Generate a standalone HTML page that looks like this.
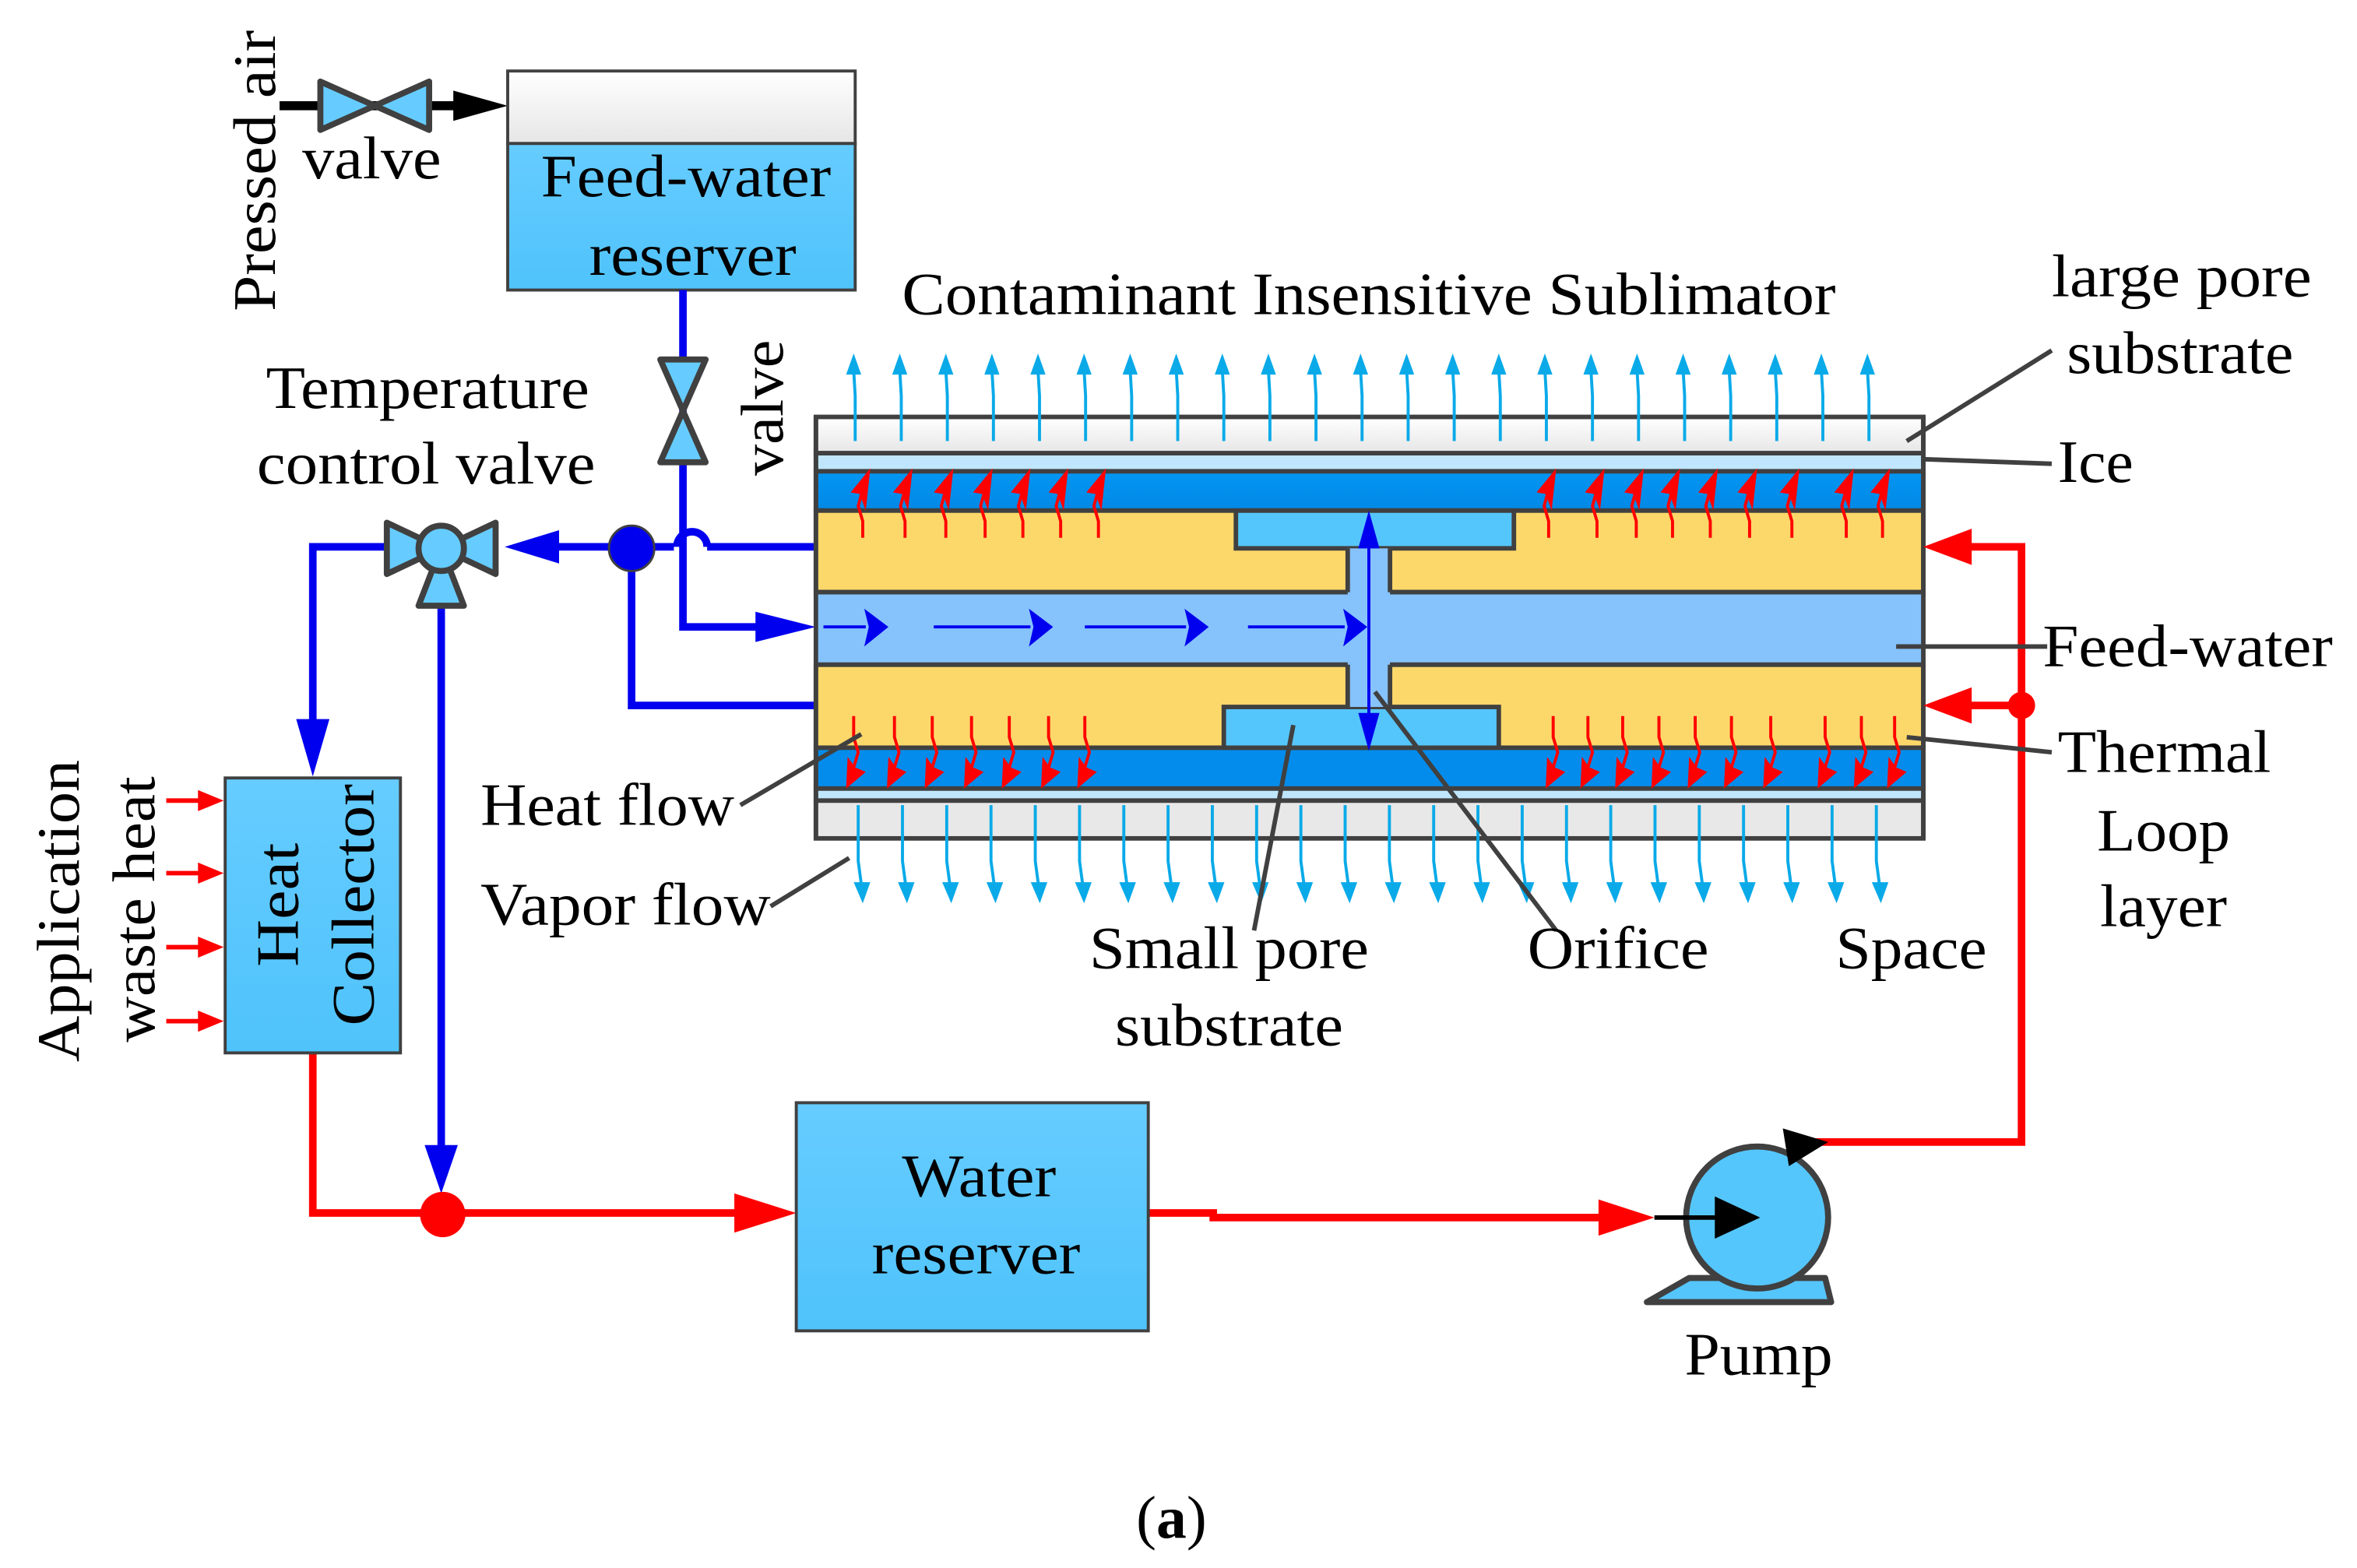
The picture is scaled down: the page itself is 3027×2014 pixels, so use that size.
<!DOCTYPE html>
<html><head><meta charset="utf-8"><style>html,body{margin:0;padding:0;background:#fff}svg{display:block}text{font-family:"Liberation Serif",serif;fill:#000}</style></head>
<body>
<svg id="s" width="3027" height="2014" viewBox="0 0 1560 1038" xmlns="http://www.w3.org/2000/svg">
<defs>
<linearGradient id="gr" x1="0" y1="0" x2="0" y2="1"><stop offset="0" stop-color="#fff"/><stop offset="1" stop-color="#e6e6e6"/></linearGradient>
<linearGradient id="bl" x1="0" y1="0" x2="0" y2="1"><stop offset="0" stop-color="#66ccff"/><stop offset="1" stop-color="#4fc3fb"/></linearGradient>
<linearGradient id="db" x1="0" y1="0" x2="0" y2="1"><stop offset="0" stop-color="#0396f2"/><stop offset="1" stop-color="#0288e6"/></linearGradient>
</defs>
<text transform="translate(182,206) rotate(-90)" font-size="40" textLength="186" lengthAdjust="spacingAndGlyphs">Pressed air</text>
<line x1="185" y1="70" x2="305" y2="70" stroke="#000" stroke-width="6"/>
<polygon points="300,60 336,70 300,80" fill="#000"/>
<polygon points="212,54 284,86 284,54 212,86" fill="#66ccff" stroke="#404040" stroke-width="4" stroke-linejoin="round"/>
<text x="200" y="118" font-size="40" textLength="92" lengthAdjust="spacingAndGlyphs">valve</text>
<rect x="336" y="47" width="230" height="48" fill="url(#gr)" stroke="#404040" stroke-width="2"/>
<rect x="336" y="95" width="230" height="97" fill="url(#bl)" stroke="#404040" stroke-width="2"/>
<text x="358" y="130" font-size="40" textLength="192" lengthAdjust="spacingAndGlyphs">Feed-water</text>
<text x="390" y="182" font-size="40" textLength="137" lengthAdjust="spacingAndGlyphs">reserver</text>
<g stroke="#0000ee" stroke-width="5" fill="none">
<polyline points="452,192 452,415 505,415"/>
<line x1="540" y1="362" x2="468" y2="362"/><path d="M468,362 a10,10 0 0 0 -20,0"/><line x1="446" y1="362" x2="360" y2="362"/>
<polyline points="418,362 418,467 540,467"/>
<polyline points="255,362 207,362 207,480"/>
<line x1="292" y1="395" x2="292" y2="770"/>
</g>
<polygon points="500,405 540,415 500,425" fill="#0000ee"/>
<polygon points="334,362 370,351 370,373" fill="#0000ee"/>
<polygon points="196,476 218,476 207,514" fill="#0000ee"/>
<polygon points="281,758 303,758 292,790" fill="#0000ee"/>
<circle cx="418" cy="363" r="15" fill="#0000ee" stroke="#404040" stroke-width="1.5"/>
<polygon points="437,238 467,238 437,306 467,306" fill="#66ccff" stroke="#404040" stroke-width="4" stroke-linejoin="round"/>
<text transform="translate(518,315) rotate(-90)" font-size="40" textLength="90" lengthAdjust="spacingAndGlyphs">valve</text>
<polygon points="256,346 328,380 328,346 256,380" fill="#66ccff" stroke="#404040" stroke-width="4" stroke-linejoin="round"/>
<polygon points="292,362 277,401 307,401" fill="#66ccff" stroke="#404040" stroke-width="4" stroke-linejoin="round"/>
<circle cx="292" cy="363" r="15" fill="#66ccff" stroke="#404040" stroke-width="4"/>
<text x="176" y="270" font-size="40" textLength="214" lengthAdjust="spacingAndGlyphs">Temperature</text>
<text x="170" y="320" font-size="40" textLength="224" lengthAdjust="spacingAndGlyphs">control valve</text>
<g stroke="#404040" stroke-width="3">
<rect x="540" y="276" width="733" height="24" fill="url(#gr)"/>
<rect x="540" y="300" width="733" height="12" fill="#bfe6fc"/>
<rect x="540" y="312" width="733" height="26" fill="url(#db)"/>
<rect x="540" y="338" width="733" height="54" fill="#fcd86a"/>
<rect x="540" y="440" width="733" height="55" fill="#fcd86a"/>
<rect x="540" y="495" width="733" height="27" fill="#048cec"/>
<rect x="540" y="522" width="733" height="8" fill="#bfe6fc"/>
<rect x="540" y="530" width="733" height="25" fill="#e8e8e8"/>
<rect x="818" y="338" width="184" height="25" fill="#55c6fc"/>
<rect x="810" y="468" width="182" height="27" fill="#55c6fc"/>
</g>
<rect x="541" y="392" width="731" height="48" fill="#86c2fc"/>
<rect x="892" y="363" width="28" height="105" fill="#86c2fc"/>
<g stroke="#404040" stroke-width="3"><line x1="540" y1="392" x2="892" y2="392"/><line x1="920" y1="392" x2="1273" y2="392"/><line x1="540" y1="440" x2="892" y2="440"/><line x1="920" y1="440" x2="1273" y2="440"/>
<line x1="892" y1="363" x2="892" y2="392"/><line x1="920" y1="363" x2="920" y2="392"/><line x1="892" y1="440" x2="892" y2="468"/><line x1="920" y1="440" x2="920" y2="468"/>
<line x1="540" y1="276" x2="540" y2="555"/><line x1="1273" y1="276" x2="1273" y2="555"/></g>
<g stroke="#0000ee" stroke-width="2"><line x1="906" y1="345" x2="906" y2="488"/></g>
<polygon points="906,338 899,363 913,363" fill="#0000ee"/><polygon points="906,497 899,472 913,472" fill="#0000ee"/>
<g id="fa"></g>
<g id="va"></g>
<g id="ha"></g>
<text x="597" y="208" font-size="40" textLength="618" lengthAdjust="spacingAndGlyphs">Contaminant Insensitive Sublimator</text>
<g stroke="#ff0000" stroke-width="5" fill="none">
<polyline points="1200,756 1338,756 1338,362 1300,362"/>
<line x1="1338" y1="467" x2="1300" y2="467"/>
<polyline points="207,697 207,803 490,803"/>
<polyline points="760,803 803,803 803,806 1060,806"/>
</g>
<polygon points="1273,362 1305,350 1305,374" fill="#ff0000"/>
<polygon points="1273,467 1305,455 1305,479" fill="#ff0000"/>
<circle cx="1338" cy="467" r="9" fill="#ff0000"/>
<polygon points="486,790 527,803 486,816" fill="#ff0000"/>
<polygon points="1058,794 1095,806 1058,818" fill="#ff0000"/>
<circle cx="293" cy="804" r="15" fill="#ff0000"/>
<rect x="149" y="515" width="116" height="182" fill="url(#bl)" stroke="#404040" stroke-width="2"/>
<text transform="translate(197,640) rotate(-90)" font-size="40" textLength="82" lengthAdjust="spacingAndGlyphs">Heat</text>
<text transform="translate(247,679) rotate(-90)" font-size="40" textLength="160" lengthAdjust="spacingAndGlyphs">Collector</text>
<text transform="translate(52,703) rotate(-90)" font-size="40" textLength="200" lengthAdjust="spacingAndGlyphs">Application</text>
<text transform="translate(102,690) rotate(-90)" font-size="40" textLength="176" lengthAdjust="spacingAndGlyphs">waste heat</text>
<g id="wh"></g>
<rect x="527" y="730" width="233" height="151" fill="url(#bl)" stroke="#404040" stroke-width="2"/>
<text x="597" y="792" font-size="40" textLength="102" lengthAdjust="spacingAndGlyphs">Water</text>
<text x="577" y="843" font-size="40" textLength="138" lengthAdjust="spacingAndGlyphs">reserver</text>
<polygon points="1118,846 1208,846 1212,862 1090,862" fill="#55c6fc" stroke="#404040" stroke-width="4" stroke-linejoin="round"/>
<circle cx="1163" cy="806" r="47" fill="#55c6fc" stroke="#404040" stroke-width="4"/>
<line x1="1095" y1="806" x2="1140" y2="806" stroke="#000" stroke-width="3"/>
<polygon points="1135,792 1165,806 1135,820" fill="#000"/>
<polygon points="1180,747 1210,756 1184,772" fill="#000"/>
<text x="1115" y="910" font-size="40" textLength="98" lengthAdjust="spacingAndGlyphs">Pump</text>
<g stroke="#404040" stroke-width="3">
<line x1="1262" y1="292" x2="1358" y2="232"/>
<line x1="1273" y1="304" x2="1358" y2="307"/>
<line x1="1255" y1="428" x2="1355" y2="428"/>
<line x1="1262" y1="488" x2="1358" y2="498"/>
<line x1="490" y1="533" x2="570" y2="486"/>
<line x1="510" y1="600" x2="562" y2="568"/>
<line x1="830" y1="616" x2="856" y2="480"/>
<line x1="1030" y1="616" x2="910" y2="458"/>
</g>
<text x="1358" y="196" font-size="40" textLength="172" lengthAdjust="spacingAndGlyphs">large pore</text>
<text x="1368" y="247" font-size="40" textLength="150" lengthAdjust="spacingAndGlyphs">substrate</text>
<text x="1362" y="319" font-size="40" textLength="50" lengthAdjust="spacingAndGlyphs">Ice</text>
<text x="1352" y="441" font-size="40" textLength="192" lengthAdjust="spacingAndGlyphs">Feed-water</text>
<text x="1362" y="511" font-size="40" textLength="141" lengthAdjust="spacingAndGlyphs">Thermal</text>
<text x="1388" y="563" font-size="40" textLength="88" lengthAdjust="spacingAndGlyphs">Loop</text>
<text x="1390" y="613" font-size="40" textLength="84" lengthAdjust="spacingAndGlyphs">layer</text>
<text x="318" y="546" font-size="40" textLength="168" lengthAdjust="spacingAndGlyphs">Heat flow</text>
<text x="318" y="612" font-size="40" textLength="192" lengthAdjust="spacingAndGlyphs">Vapor flow</text>
<text x="721" y="641" font-size="40" textLength="185" lengthAdjust="spacingAndGlyphs">Small pore</text>
<text x="738" y="692" font-size="40" textLength="151" lengthAdjust="spacingAndGlyphs">substrate</text>
<text x="1011" y="641" font-size="40" textLength="120" lengthAdjust="spacingAndGlyphs">Orifice</text>
<text x="1215" y="641" font-size="40" textLength="100" lengthAdjust="spacingAndGlyphs">Space</text>
<text x="752" y="1018" font-size="40">(<tspan font-weight="bold">a</tspan>)</text>
</svg>
<script>
var NS="http://www.w3.org/2000/svg";
function add(g,tag,a){var e=document.createElementNS(NS,tag);for(var k in a)e.setAttribute(k,a[k]);document.getElementById(g).appendChild(e);}
for(var i=0;i<23;i++){var x=566+i*30.5;
add("va","polyline",{points:x+",292 "+x+",262 "+(x-1)+",245",stroke:"#0aaae8","stroke-width":2,fill:"none"});
add("va","polygon",{points:(x-1)+",234 "+(x-6)+",248 "+(x+4)+",248",fill:"#0aaae8"});}
for(var i=0;i<24;i++){var x=568+i*29.3;
add("va","polyline",{points:x+",533 "+x+",570 "+(x+2)+",585",stroke:"#0aaae8","stroke-width":2,fill:"none"});
add("va","polygon",{points:(x+3)+",598 "+(x-3)+",584 "+(x+8)+",584",fill:"#0aaae8"});}
[[545,588],[618,697],[718,800],[826,905]].forEach(function(p){
add("fa","line",{x1:p[0],y1:415,x2:p[1]-15,y2:415,stroke:"#0000ee","stroke-width":2});
add("fa","polygon",{points:(p[1]-16)+",403 "+p[1]+",415 "+(p[1]-16)+",428 "+(p[1]-13)+",415",fill:"#0000ee"});});
var up=[571,599,626,652,677,702,727,1025,1057,1083,1107,1132,1158,1186,1222,1246];
up.forEach(function(x){
add("ha","polyline",{points:x+",356 "+x+",345 "+(x-3)+",335 "+(x)+",324",stroke:"#f00","stroke-width":2,fill:"none"});
add("ha","polygon",{points:(x+5)+",310 "+(x-8)+",326 "+(x-2)+",327 "+(x+2)+",338",fill:"#f00"});});
var dn=[565,592,617,643,668,694,718,1028,1051,1074,1098,1122,1146,1172,1208,1232,1254];
dn.forEach(function(x){
add("ha","polyline",{points:x+",474 "+x+",488 "+(x+3)+",498 "+(x)+",508",stroke:"#f00","stroke-width":2,fill:"none"});
add("ha","polygon",{points:(x-5)+",522 "+(x-4)+",501 "+(x+1)+",508 "+(x+8)+",511",fill:"#f00"});});
[530,578,627,676].forEach(function(y){
add("wh","line",{x1:110,y1:y,x2:135,y2:y,stroke:"#f00","stroke-width":3});
add("wh","polygon",{points:"131,"+(y-7)+" 148,"+y+" 131,"+(y+7),fill:"#f00"});});
</script>
</body></html>
